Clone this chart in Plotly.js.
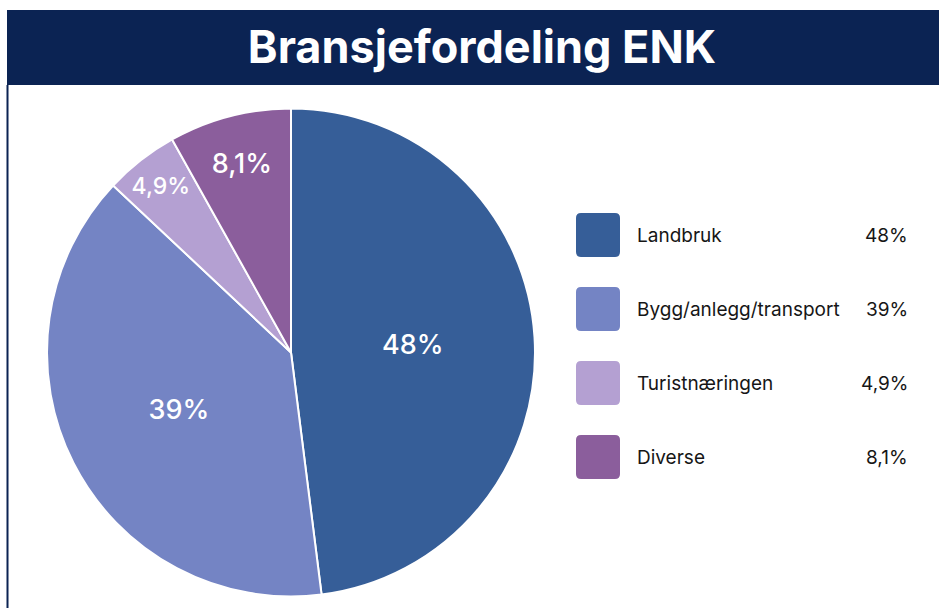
<!DOCTYPE html>
<html>
<head>
<meta charset="utf-8">
<script src="https://cdn.plot.ly/plotly-3.0.1.min.js"></script>
<style>
html,body{margin:0;padding:0;background:#fff;}
#chart{width:939px;height:608px;}
</style>
</head>
<body>
<div id="chart"></div>
<script>
const titleText = "Bransjefordeling ENK";
const categories = ["Landbruk", "Bygg/anlegg/transport", "Turistnæringen", "Diverse"];
const shares = [48, 39, 4.9, 8.1];
const shareLabels = ["48%", "39%", "4,9%", "8,1%"];
const colors = ["#365E98", "#7484C4", "#B4A0D2", "#8B5E9C"];

const W = 939, H = 608;
const px = x => x / W;
const py = y => 1 - y / H;
const navy = "#0B2353";
const font = "Inter, 'Noto Sans', sans-serif";

const trace = {
  type: "pie",
  labels: categories,
  values: shares,
  text: shareLabels,
  textinfo: "text",
  textposition: "inside",
  insidetextorientation: "horizontal",
  sort: false,
  direction: "clockwise",
  rotation: 0,
  marker: {colors: colors, line: {color: "#ffffff", width: 2}},
  insidetextfont: {family: font, size: 27, color: "#ffffff", weight: 500},
  hoverinfo: "label+text",
  showlegend: false,
  domain: {x: [px(47), px(535)], y: [py(597), py(108)]}
};

const shapes = [
  {type: "rect", xref: "paper", yref: "paper", x0: px(7), x1: px(939), y0: py(85), y1: py(10),
   fillcolor: navy, line: {width: 0}, layer: "below"},
  {type: "line", xref: "paper", yref: "paper", x0: px(7.5), x1: px(7.5), y0: py(85), y1: py(608),
   line: {color: navy, width: 2}}
];
const annotations = [];
const rowY = [235, 309, 383, 457];
const sq = 44, r = 5;
categories.forEach((c, i) => {
  const x0 = 576, y0 = rowY[i] - sq / 2, x1 = x0 + sq, y1 = y0 + sq;
  const X = v => px(v), Y = v => py(v);
  const path = `M ${X(x0 + r)} ${Y(y0)} L ${X(x1 - r)} ${Y(y0)} Q ${X(x1)} ${Y(y0)} ${X(x1)} ${Y(y0 + r)} ` +
    `L ${X(x1)} ${Y(y1 - r)} Q ${X(x1)} ${Y(y1)} ${X(x1 - r)} ${Y(y1)} L ${X(x0 + r)} ${Y(y1)} ` +
    `Q ${X(x0)} ${Y(y1)} ${X(x0)} ${Y(y1 - r)} L ${X(x0)} ${Y(y0 + r)} Q ${X(x0)} ${Y(y0)} ${X(x0 + r)} ${Y(y0)} Z`;
  shapes.push({type: "path", xref: "paper", yref: "paper", path: path,
    fillcolor: colors[i], line: {width: 0}});
  annotations.push({xref: "paper", yref: "paper", x: px(635), y: py(rowY[i]), xanchor: "left", yanchor: "middle",
    text: c, showarrow: false, font: {family: font, size: 19, color: "#161616"}});
  annotations.push({xref: "paper", yref: "paper", x: px(910), y: py(rowY[i]), xanchor: "right", yanchor: "middle",
    text: shareLabels[i], showarrow: false, font: {family: font, size: 19, color: "#161616"}});
});

const layout = {
  width: W, height: H,
  margin: {l: 0, r: 0, t: 0, b: 0},
  paper_bgcolor: "#ffffff",
  title: {text: "<b>" + titleText + "</b>", x: px(482), xanchor: "center", y: py(47), yanchor: "middle",
    xref: "paper", yref: "paper",
    font: {family: font, size: 45, color: "#ffffff"}},
  shapes: shapes,
  annotations: annotations,
  showlegend: false
};

Plotly.newPlot("chart", [trace], layout, {displayModeBar: false, responsive: false});
</script>
</body>
</html>
